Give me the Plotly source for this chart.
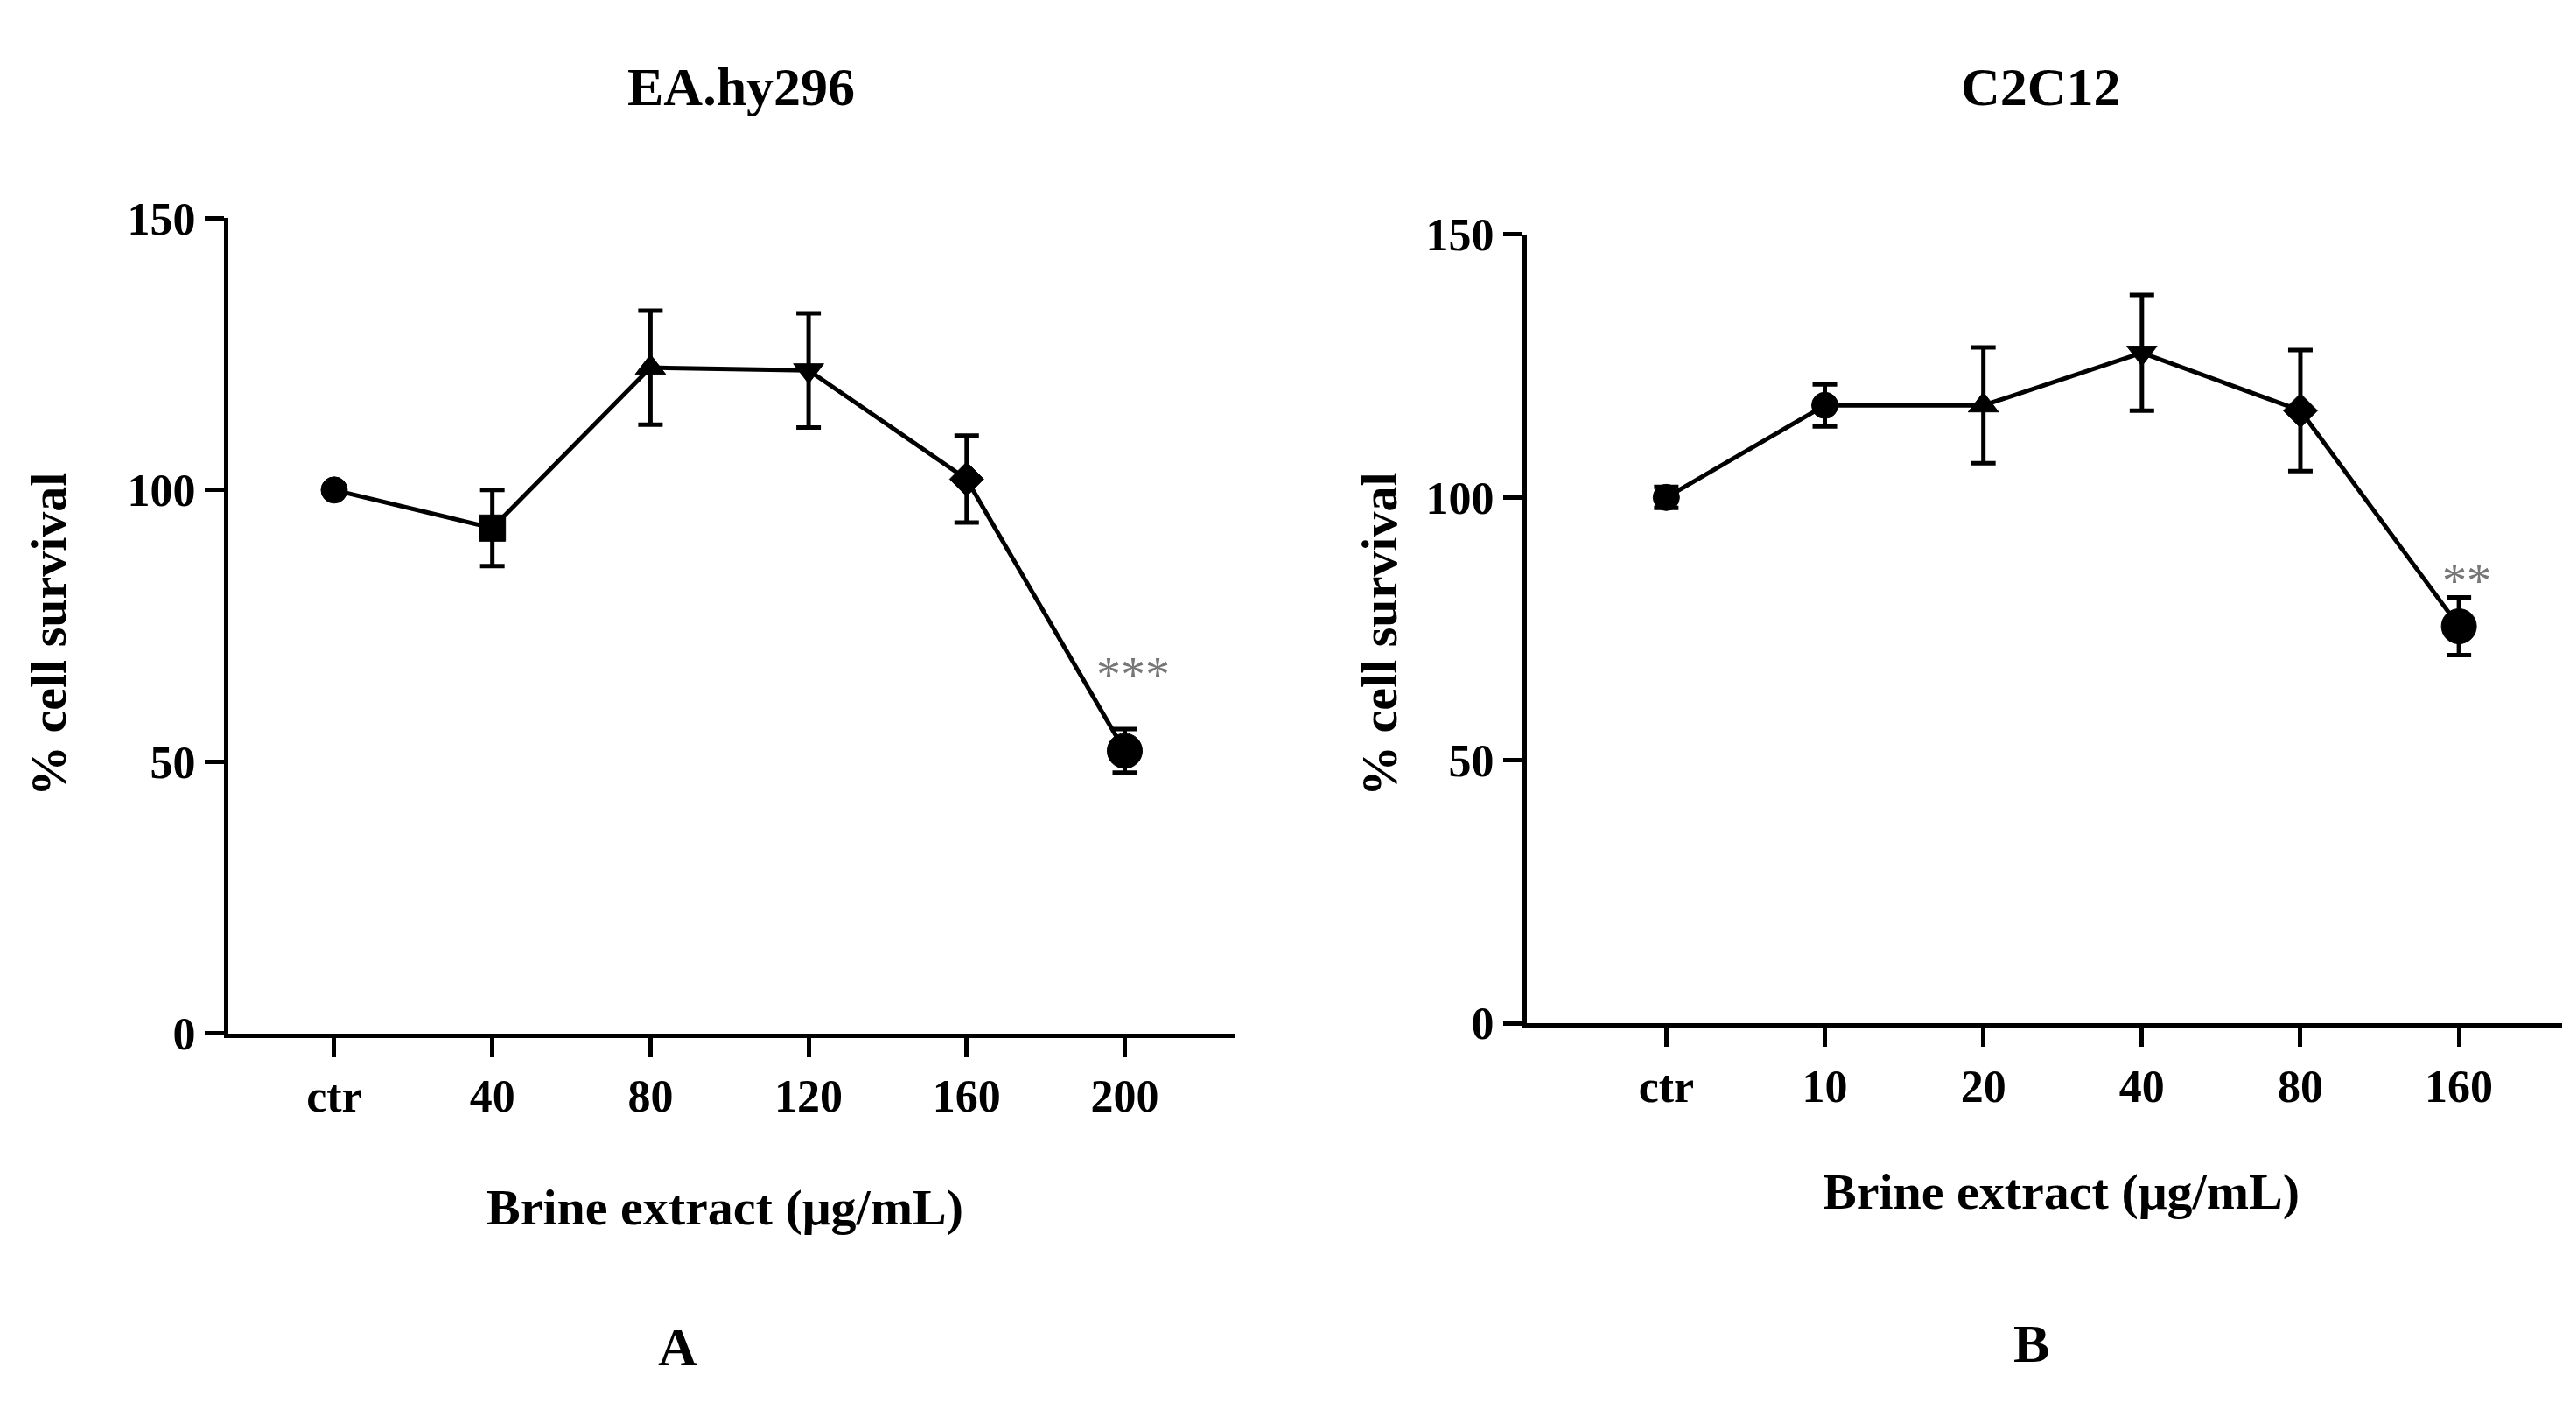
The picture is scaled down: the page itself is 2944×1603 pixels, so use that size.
import plotly.graph_objects as go

cats_a = ["ctr", "40", "80", "120", "160", "200"]
vals_a = [100, 93, 122.5, 122, 102, 52]
err_a = [0, 7, 10.5, 10.5, 8, 4]
sym_a = ["circle", "square", "triangle-up", "triangle-down", "diamond", "circle"]
size_a = [30, 30, 30, 30, 30, 40]

cats_b = ["ctr", "10", "20", "40", "80", "160"]
vals_b = [100, 117.5, 117.5, 127.5, 116.5, 75.5]
err_b = [2, 4, 11, 11, 11.5, 5.5]
sym_b = ["circle", "circle", "triangle-up", "triangle-down", "diamond", "circle"]
size_b = [30, 30, 30, 30, 30, 40]

y_ticks = [0, 50, 100, 150]

F = "Liberation Serif"
fig = go.Figure()
for (cats, vals, err, sym, size, xa, ya) in [
    (cats_a, vals_a, err_a, sym_a, size_a, "x", "y"),
    (cats_b, vals_b, err_b, sym_b, size_b, "x2", "y2")]:
    fig.add_trace(go.Scatter(
        x=list(range(len(cats))), y=vals, mode="lines+markers",
        line=dict(color="black", width=5),
        marker=dict(symbol=sym, size=size, color="black", opacity=1,
                    line=dict(color="black", width=1)),
        error_y=dict(type="data", array=err, color="black", thickness=5, width=14),
        xaxis=xa, yaxis=ya, showlegend=False))

ax = dict(showline=True, linecolor="black", linewidth=5, ticks="outside", ticklen=22,
          tickwidth=5, tickcolor="black", showgrid=False, zeroline=False,
          tickfont=dict(family=F, size=52, color="black"))
bold = lambda l: [f"<b>{t}</b>" for t in l]
fig.update_layout(
    width=2944, height=1603, margin=dict(l=0, r=0, t=0, b=0),
    plot_bgcolor="white", paper_bgcolor="white",
    xaxis=dict(ax, domain=[0.0859, 0.4769], range=[-0.67, 5.7], tickvals=list(range(6)),
               ticktext=bold(cats_a), anchor="y"),
    yaxis=dict(ax, domain=[0.2595, 0.862], range=[0, 150], tickvals=y_ticks,
               ticktext=bold(y_ticks), anchor="x"),
    xaxis2=dict(ax, domain=[0.590, 0.9918], range=[-0.88, 5.65], tickvals=list(range(6)),
                ticktext=bold(cats_b), anchor="y2"),
    yaxis2=dict(ax, domain=[0.267, 0.85], range=[0, 150], tickvals=y_ticks,
                ticktext=bold(y_ticks), anchor="x2"),
)

def ann(text, x, y, size, angle=0, color="black"):
    fig.add_annotation(text=f"<b>{text}</b>", x=x, y=y, xref="paper", yref="paper",
                       showarrow=False, textangle=angle,
                       font=dict(family=F, size=size, color=color), xanchor="center", yanchor="middle")

s = 1.8776
ann("EA.hy296", 447*s/2944, 1-35*s/1603, 62)
ann("C2C12", 1238*s/2944, 1-35*s/1603, 62)
ann("Brine extract (μg/mL)", 437*s/2944, 1-742*s/1603, 58)
ann("Brine extract (μg/mL)", 1250*s/2944, 1-732*s/1603, 58)
ann("% cell survival", 25*s/2944, 1-380*s/1603, 58, angle=-90)
ann("% cell survival", 835*s/2944, 1-380*s/1603, 58, angle=-90)
ann("A", 408*s/2944, 1-830*s/1603, 62)
ann("B", 1232*s/2944, 1-828*s/1603, 62)
fig.add_annotation(text="***", x=5.05, y=66, xref="x", yref="y", showarrow=False,
                   font=dict(family=F, size=56, color="#777"))
fig.add_annotation(text="**", x=5.05, y=84, xref="x2", yref="y2", showarrow=False,
                   font=dict(family=F, size=56, color="#777"))
fig.write_html("out.html")
